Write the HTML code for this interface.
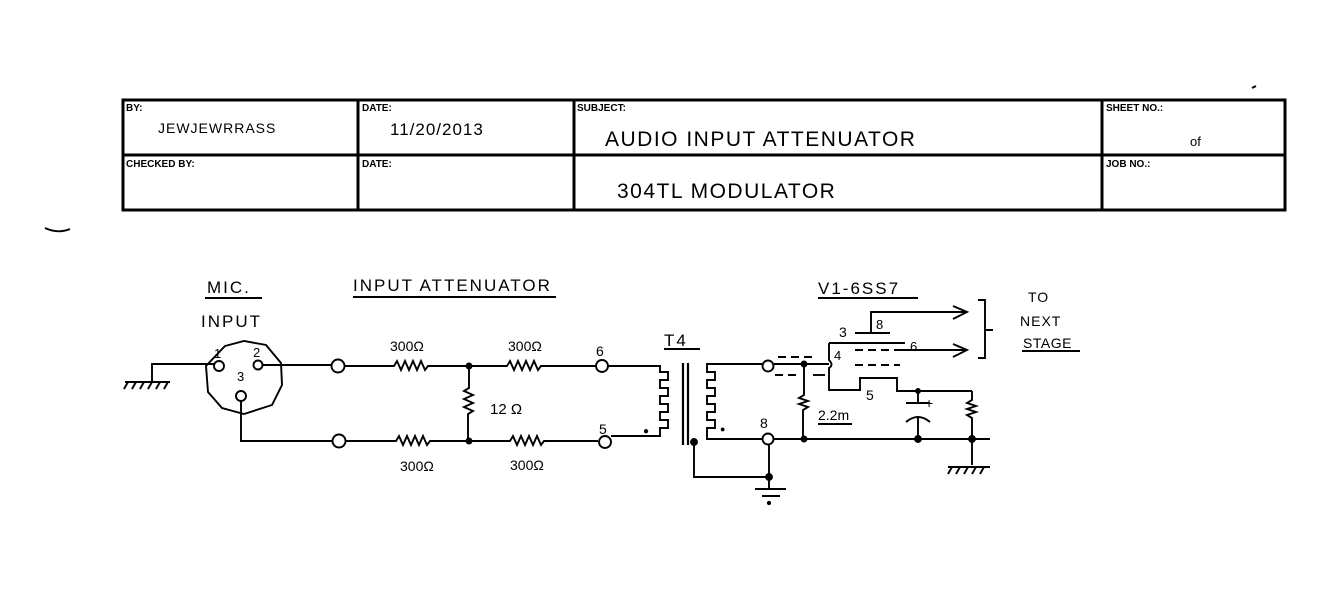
<!DOCTYPE html>
<html><head><meta charset="utf-8"><style>
html,body{margin:0;padding:0;background:#fff;}
svg{display:block;}
text{font-family:"Liberation Sans",sans-serif;fill:#000;}
.h{font-family:"Liberation Sans",sans-serif;font-size:17px;letter-spacing:2px;}
.s{font-size:10px;font-weight:bold;}
</style></head><body>
<svg width="1320" height="615" viewBox="0 0 1320 615" xmlns="http://www.w3.org/2000/svg" fill="none" stroke="#000" stroke-width="1.9">
<!-- title block -->
<rect x="123" y="100" width="1162" height="110" stroke-width="3"/>
<line x1="123" y1="155" x2="1285" y2="155" stroke-width="3"/>
<line x1="358" y1="100" x2="358" y2="210" stroke-width="3"/>
<line x1="574" y1="100" x2="574" y2="210" stroke-width="3"/>
<line x1="1102" y1="100" x2="1102" y2="210" stroke-width="3"/>
<g stroke="none">
<text x="126" y="111" class="s">BY:</text>
<text x="362" y="111" class="s">DATE:</text>
<text x="577" y="111" class="s">SUBJECT:</text>
<text x="1106" y="111" class="s">SHEET NO.:</text>
<text x="126" y="167" class="s">CHECKED BY:</text>
<text x="362" y="167" class="s">DATE:</text>
<text x="1106" y="167" class="s">JOB NO.:</text>
<text x="1190" y="146" font-size="13">of</text>
<text x="158" y="133" font-size="14" letter-spacing="1">JEWJEWRRASS</text>
<text x="390" y="135" font-size="17" letter-spacing="1">11/20/2013</text>
<text x="605" y="146" font-size="21" letter-spacing="1.5">AUDIO INPUT ATTENUATOR</text>
<text x="617" y="198" font-size="21" letter-spacing="1.5">304TL MODULATOR</text>
<!-- headings -->
<text x="207" y="293" class="h">MIC.</text>
<text x="201" y="327" class="h">INPUT</text>
<text x="353" y="291" class="h" letter-spacing="2.6">INPUT ATTENUATOR</text>
<text x="818" y="294" class="h" letter-spacing="3">V1-6SS7</text>
<text x="664" y="346" class="h">T4</text>
<text x="1028" y="302" font-size="14" letter-spacing="1">TO</text>
<text x="1020" y="326" font-size="14" letter-spacing="1">NEXT</text>
<text x="1023" y="348" font-size="14" letter-spacing="0.5">STAGE</text>
<text x="390" y="351" font-size="14">300Ω</text>
<text x="508" y="351" font-size="14">300Ω</text>
<text x="490" y="414" font-size="15">12 Ω</text>
<text x="400" y="471" font-size="14">300Ω</text>
<text x="510" y="470" font-size="14">300Ω</text>
<text x="596" y="356" font-size="14">6</text>
<text x="599" y="434" font-size="14">5</text>
<text x="214" y="358" font-size="13">1</text>
<text x="253" y="357" font-size="13">2</text>
<text x="237" y="381" font-size="13">3</text>
<text x="760" y="428" font-size="14">8</text>
<text x="818" y="420" font-size="14">2.2m</text>
<text x="839" y="337" font-size="14">3</text>
<text x="876" y="329" font-size="13">8</text>
<text x="834" y="360" font-size="13">4</text>
<text x="910" y="351" font-size="13">6</text>
<text x="866" y="400" font-size="14">5</text>
<text x="925" y="408" font-size="14">+</text>
<text x="643" y="434" font-size="10">●</text>
<text x="720" y="432" font-size="9">●</text>
</g>
<!-- underlines -->
<line x1="205" y1="298" x2="262" y2="298"/>
<line x1="353" y1="297" x2="556" y2="297"/>
<line x1="818" y1="298" x2="918" y2="298"/>
<line x1="664" y1="349" x2="700" y2="349"/>
<line x1="1022" y1="351" x2="1080" y2="351"/>
<line x1="818" y1="424" x2="852" y2="424"/>
<path d="M45 228 Q58 234 70 229"/>
<!-- mic connector -->
<path d="M225 346 L244 341 L266 345 L281 363 L282 385 L272 405 L244 414 L222 408 L208 392 L206 366 Z"/>
<circle cx="219" cy="366" r="5"/><circle cx="258" cy="365" r="4.5"/><circle cx="241" cy="396" r="5"/>
<path d="M152 381 V364 H214"/>
<path d="M125 382 H170 M128 382 L124 389 M136 382 L132 389 M144 382 L140 389 M152 382 L148 389 M160 382 L156 389 M168 382 L164 389"/>
<path d="M262 365 H331"/>
<path d="M241 401 V441 H332"/>
<circle cx="338" cy="366" r="6.5"/><circle cx="339" cy="441" r="6.5"/>
<path d="M345 366 H394 l3 -5 l4 9 l4 -9 l4 9 l4 -9 l4 9 l4 -9 l4 9 l3 -4 H507 l3 -5 l4 9 l4 -9 l4 9 l4 -9 l4 9 l4 -9 l4 9 l3 -4 H596"/>
<path d="M346 441 H396 l3 -5 l4 9 l4 -9 l4 9 l4 -9 l4 9 l4 -9 l4 9 l3 -4 H510 l3 -5 l4 9 l4 -9 l4 9 l4 -9 l4 9 l4 -9 l4 9 l3 -4 H598"/>
<path d="M469 366 V388 l-5 3 l9 4 l-9 4 l9 4 l-9 4 l9 4 l-5 3 V441"/>
<circle cx="469" cy="366" r="2.5" fill="#000"/><circle cx="469" cy="441" r="2.5" fill="#000"/>
<circle cx="602" cy="366" r="6"/><circle cx="605" cy="442" r="6"/>
<path d="M608 366 H660 V372 h8 v8 h-8 v8 h8 v8 h-8 v8 h8 v8 h-8 v8 h8 v8 h-8 v8 H611"/>
<line x1="683" y1="363" x2="683" y2="445" stroke-width="2.2"/>
<line x1="688" y1="363" x2="688" y2="445" stroke-width="2.2"/>
<path d="M762 364 H707 V372 h8 v8 h-8 v8 h8 v8 h-8 v8 h8 v8 h-8 v8 h8 v8 h-8 V439 H763"/>
<circle cx="694" cy="442" r="3" fill="#000"/>
<path d="M694 442 V477 H769"/>
<circle cx="768" cy="366" r="5.5"/><circle cx="768" cy="439" r="5.5"/>
<path d="M774 439 H990"/>
<path d="M769 445 V488 M755 489 H786 M762 496 H780"/>
<circle cx="769" cy="477" r="3" fill="#000"/><circle cx="769" cy="503" r="1.2" fill="#000"/>
<path d="M774 364 H829"/>
<circle cx="804" cy="364" r="2.5" fill="#000"/>
<path d="M778 357 H812" stroke-dasharray="8 5"/>
<path d="M775 375 H800" stroke-dasharray="8 5"/>
<path d="M813 375 H825"/>
<path d="M804 364 V395 l-5 3 l9 3 l-9 3 l9 3 l-5 3 V439"/>
<circle cx="804" cy="439" r="2.5" fill="#000"/>
<path d="M829 343 H905"/>
<path d="M829 343 V360 q5 5 0 8 V390 H860 V378 H897 V391 H972"/>
<path d="M855 333 H890"/>
<path d="M871 333 V312 H965 M953 306 L967 312 L953 319"/>
<path d="M855 350 H900" stroke-dasharray="8 5"/>
<path d="M900 350 H965 M953 344 L967 350 L953 357"/>
<path d="M855 365 H900" stroke-dasharray="8 5"/>
<path d="M978 300 H985 V358 H978 M985 330 H993"/>
<path d="M918 391 V403 M906 403 H930 M906 422 Q918 412 930 422 M918 416 V439"/>
<circle cx="918" cy="391" r="2" fill="#000"/><circle cx="918" cy="439" r="3" fill="#000"/>
<path d="M972 391 V400 l-5 3 l9 3 l-9 3 l9 3 l-9 3 l5 3 V465"/>
<circle cx="972" cy="439" r="3" fill="#000"/>
<path d="M948 467 H990 M952 467 L948 474 M960 467 L956 474 M968 467 L964 474 M976 467 L972 474 M984 467 L980 474"/>
<path d="M1252 88 L1256 86"/>
</svg>
</body></html>
